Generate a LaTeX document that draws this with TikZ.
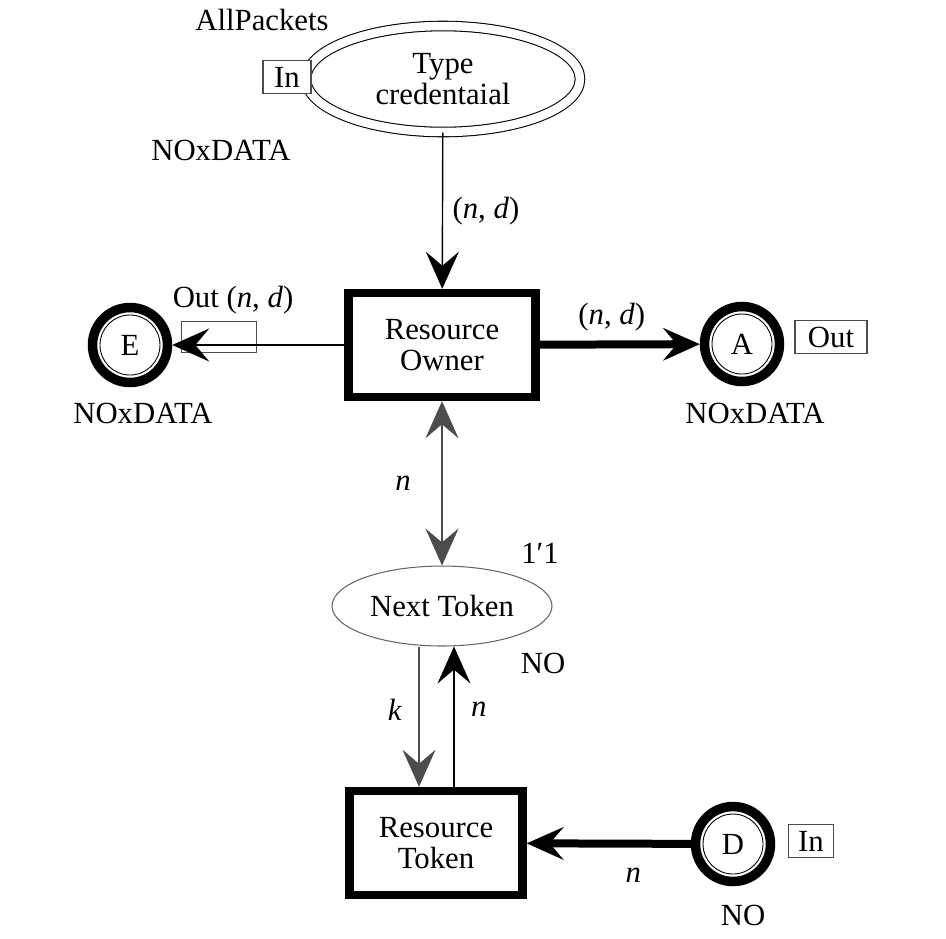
\documentclass[tikz,border=0pt]{standalone}
\usepackage{fontspec}
\setmainfont{Liberation Serif}
\usetikzlibrary{arrows.meta, positioning, shapes.geometric}

\begin{document}
\begin{tikzpicture}[x=0.02cm, y=-0.02cm,
    font=\fontsize{17.5}{18}\selectfont,
    trans/.style={rectangle, draw, line width=0.17cm, minimum width=3.74cm,
                  minimum height=2.08cm, inner sep=0pt, align=center},
    place/.style={circle, draw, line width=0.19cm, minimum size=1.5cm, inner sep=0pt,
                  path picture={\draw[line width=0.5pt] (path picture bounding box.center) circle[radius=0.6cm];}},
    port/.style={rectangle, draw=black!70, fill=white, line width=0.6pt, inner sep=2pt, minimum height=0.66cm},
    pn/.tip={Stealth[length=0.74cm, width=0.66cm, inset=0.28cm, line width=0.4pt]},
    arc/.style={-pn, line width=0.8pt},
    heavy/.style={arc, line width=0.16cm},
    grayarc/.style={arc, draw=black!70}]

\useasboundingbox (0,0) rectangle (946,938);

% places and transitions
\node[ellipse, draw, double, double distance=0.17cm, line width=0.6pt,
      minimum width=5.48cm, minimum height=2.12cm, align=center] (cred) at (443,79) {Type\\credentaial};
\node[trans] (owner) at (442,345) {Resource\\Owner};
\node[place] (e) at (130,345) {E};
\node[place] (a) at (742,344) {A};
\node[ellipse, draw=black!60, line width=0.6pt, minimum width=4.2cm, minimum height=1.6cm] (next) at (442,606) {Next Token};
\node[trans, minimum width=3.46cm] (token) at (436,843) {Resource\\Token};
\node[place] (d) at (733,844) {D};

% port tags
\node[port, minimum width=0.96cm] (inc) at (287,77) {In};
\node[port, fill=none, minimum width=1.5cm, minimum height=0.62cm] (oute) at (219,337) {};
\node[port, minimum width=1.44cm] (outa) at (831,337) {Out};
\node[port, minimum width=0.9cm] (ind) at (811,841) {In};

% colour sets and markings
\node (allp) at (262,20) {AllPackets};
\node (credset) at (221,150) {NOxDATA};
\node (eset) at (143,413) {NOxDATA};
\node (aset) at (755,413) {NOxDATA};
\node (nextinit) at (540,553) {1′1};
\node (nextset) at (543,663) {NO};
\node (dset) at (743,915) {NO};

% arcs
\draw[arc] (cred) -- (owner) node[pos=0.5, right=2pt] {(\textit{n}, \textit{d})};
\draw[arc] (owner) -- (e);
\node at (233,300) {Out (\textit{n}, \textit{d})};
\draw[heavy] (owner) -- (a) node[pos=0.45, above=2pt] {(\textit{n}, \textit{d})};
\draw[grayarc, pn-pn] (owner) -- (next) node[pos=0.5, left=14pt] {\textit{n}};
\coordinate (kin) at ([xshift=-0.34cm]token.north);
\coordinate (nout) at ([xshift=0.36cm]token.north);
\draw[grayarc] (next.south -| kin) -- (kin) node[pos=0.45, left=6pt] {\textit{k}};
\draw[arc] (nout) -- (next.south -| nout) node[pos=0.55, right=6pt] {\textit{n}};
\draw[heavy] (d) -- (token) node[pos=0.35, below=8pt] {\textit{n}};
\end{tikzpicture}
\end{document}
